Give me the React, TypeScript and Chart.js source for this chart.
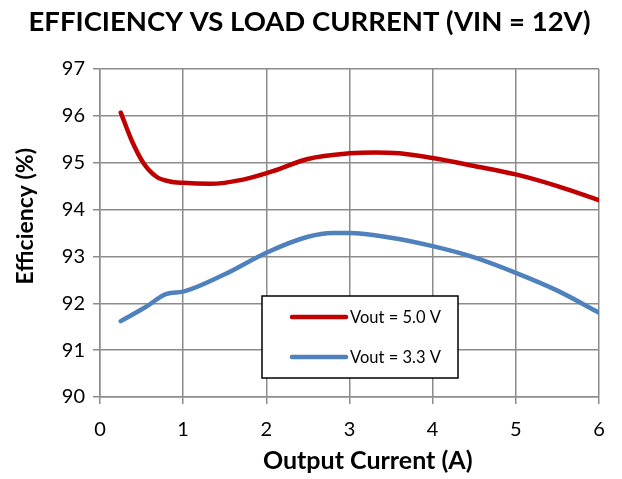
import React, { useEffect, useRef } from "react";
import { Chart, registerables } from "chart.js";

Chart.register(...registerables);

const titleText = "   EFFICIENCY VS LOAD CURRENT (VIN = 12V)";
const xTitle = "      Output Current (A)";
const yTitle = "      Efficiency (%)";

const redX = [0.25, 0.38, 0.52, 0.68, 0.84, 1.0, 1.32, 1.72, 2.08, 2.5, 3.0, 3.3, 3.6, 4.0, 4.5, 5.0, 5.5, 6.0];
const redY = [96.07, 95.48, 95.0, 94.7, 94.6, 94.57, 94.55, 94.64, 94.82, 95.08, 95.2, 95.22, 95.2, 95.1, 94.93, 94.75, 94.5, 94.2];

const blueX = [0.25, 0.55, 0.8, 1.0, 1.5, 2.0, 2.5, 2.8, 3.0, 3.5, 4.0, 4.5, 5.0, 5.5, 6.0];
const blueY = [91.62, 91.92, 92.2, 92.25, 92.62, 93.08, 93.42, 93.5, 93.5, 93.4, 93.22, 92.98, 92.65, 92.27, 91.8];

const seriesNames = ["Vout = 5.0 V", "Vout = 3.3 V"];
const seriesColors = ["#C00000", "#4F81BD"];

const FONT = "Lato, 'Open Sans', sans-serif";

const legendBox = {
  id: "legendBox",
  afterDraw(chart: any) {
    const ctx = chart.ctx;
    const left = 262, top = 296, w = 196, h = 82;
    ctx.save();
    ctx.fillStyle = "#fff";
    ctx.fillRect(left, top, w, h);
    ctx.strokeStyle = "#000";
    ctx.lineWidth = 1.5;
    ctx.strokeRect(left, top, w, h);
    seriesNames.forEach((name, i) => {
      const y = top + 21 + i * 40;
      ctx.strokeStyle = seriesColors[i];
      ctx.lineWidth = 4.5;
      ctx.lineCap = "round";
      ctx.beginPath();
      ctx.moveTo(left + 30, y);
      ctx.lineTo(left + 84, y);
      ctx.stroke();
      ctx.fillStyle = "#000";
      ctx.font = `16.5px ${FONT}`;
      ctx.textBaseline = "middle";
      ctx.textAlign = "left";
      ctx.fillText(name, left + 88, y + 1);
    });
    ctx.restore();
  },
};

export default function App() {
  const ref = useRef<HTMLCanvasElement>(null);
  useEffect(() => {
    const toPts = (xs: number[], ys: number[]) => xs.map((x, i) => ({ x, y: ys[i] }));
    const chart = new Chart(ref.current!, {
      type: "line",
      data: {
        datasets: [
          {
            label: seriesNames[0],
            data: toPts(redX, redY),
            borderColor: seriesColors[0],
            borderWidth: 4.5,
            pointRadius: 0,
            cubicInterpolationMode: "monotone",
            borderCapStyle: "round",
          },
          {
            label: seriesNames[1],
            data: toPts(blueX, blueY),
            borderColor: seriesColors[1],
            borderWidth: 4.5,
            pointRadius: 0,
            cubicInterpolationMode: "monotone",
            borderCapStyle: "round",
          },
        ],
      },
      options: {
        animation: false,
        responsive: false,
        layout: { padding: { left: 0, right: 23, top: 0, bottom: 0 } },
        plugins: {
          legend: { display: false },
          tooltip: { enabled: false },
          title: {
            display: true,
            text: titleText,
            color: "#000",
            font: { family: FONT, size: 27.5, weight: "bold" },
            padding: { top: 6, bottom: 30 },
          },
        },
        scales: {
          x: {
            type: "linear",
            min: 0,
            max: 6,
            ticks: { stepSize: 1, color: "#000", font: { family: FONT, size: 20 }, padding: 14 },
            grid: { color: "#8C8C8C", lineWidth: 1.5, tickLength: 7 },
            border: { color: "#8C8C8C", width: 1.5 },
            title: {
              display: true,
              text: xTitle,
              color: "#000",
              font: { family: FONT, size: 25, weight: "bold" },
              padding: { top: 0, bottom: 3 },
            },
            afterFit(scale: any) {
              scale.height = 82;
            },
          },
          y: {
            min: 90,
            max: 97,
            ticks: { stepSize: 1, color: "#000", font: { family: FONT, size: 20 }, padding: 8 },
            grid: { color: "#8C8C8C", lineWidth: 1.5, tickLength: 7 },
            border: { color: "#8C8C8C", width: 1.5 },
            title: {
              display: true,
              text: yTitle,
              color: "#000",
              font: { family: FONT, size: 23, weight: "bold" },
              padding: { top: 12, bottom: 0 },
            },
            afterFit(scale: any) {
              scale.width = 100;
            },
          },
        },
      },
      plugins: [legendBox],
    });
    return () => chart.destroy();
  }, []);
  return (
    <div style={{ position: "fixed", left: 0, top: 0, width: 622, height: 479, background: "#fff" }}>
      <canvas ref={ref} width={622} height={479} />
    </div>
  );
}
